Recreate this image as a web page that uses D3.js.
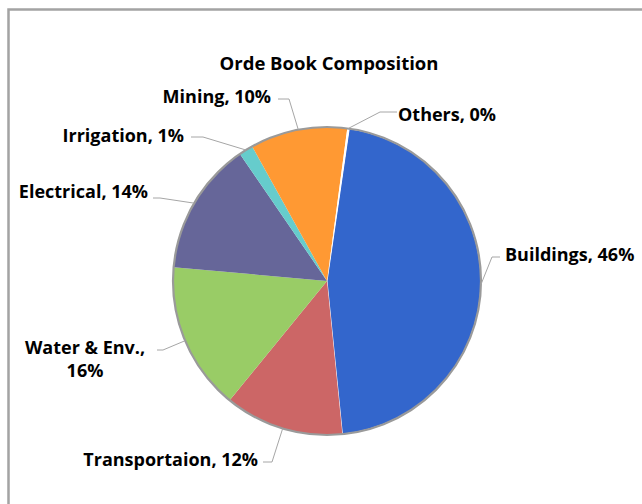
<!DOCTYPE html>
<html>
<head>
<meta charset="utf-8">
<script src="https://cdn.jsdelivr.net/npm/d3@7"></script>
<style>
  body { margin: 0; background: #fff; }
  svg text { font-family: "Open Sans", "Noto Sans", sans-serif; font-weight: bold; fill: #000; }
</style>
</head>
<body>
<div class="chart"></div>
<script>
// order book share, clockwise starting from Buildings
var categories = ["Buildings", "Transportaion", "Water & Env.", "Electrical", "Irrigation", "Mining", "Others"];
var shares = [46.1, 12.48, 15.55, 14.0, 1.49, 10.18, 0.2];
var colors = ["#3366cc", "#cc6666", "#99cc66", "#666699", "#66cccc", "#ff9933", "#ffffff"];

var svgW = 642, svgH = 504;
var cx = 327, cy = 281, r = 154;
var firstAngle = 8.3 * Math.PI / 180;

// where each label sits (elbow of the leader line, text anchor point)
var labelPos = {
    "Buildings":     { ex: 492, ey: 257, lx: 500, tx: 505, ty: 255, anchor: "start" },
    "Transportaion": { ex: 272, ey: 462, lx: 263, tx: 258, ty: 460, anchor: "end" },
    "Water & Env.":  { ex: 163, ey: 350, lx: 157, tx: 85, ty: 348, anchor: "middle" },
    "Electrical":    { ex: 160, ey: 198, lx: 153, tx: 148, ty: 192, anchor: "end" },
    "Irrigation":    { ex: 203, ey: 137, lx: 191, tx: 184, ty: 136, anchor: "end" },
    "Mining":        { ex: 289, ey: 99, lx: 278, tx: 271, ty: 97, anchor: "end" },
    "Others":        { ex: 380, ey: 112, lx: 397, tx: 398, ty: 115, anchor: "start" }
};

var data = categories.map(function(c, i) {
    return { name: c, value: shares[i], color: colors[i] };
});

var svg = d3.select(".chart").append("svg")
    .attr("width", svgW)
    .attr("height", svgH);

svg.append("rect")
    .attr("x", 8.5).attr("y", 9.5)
    .attr("width", 700).attr("height", 600)
    .attr("fill", "#fff")
    .attr("stroke", "#a3a3a3")
    .attr("stroke-width", 2.5);

svg.append("text")
    .attr("x", 329).attr("y", 64)
    .attr("dy", "0.35em")
    .attr("text-anchor", "middle")
    .style("font-size", "18.5px")
    .text("Orde Book Composition");

var pie = d3.pie()
    .sort(null)
    .value(function(d) { return d.value; })
    .startAngle(firstAngle)
    .endAngle(firstAngle + 2 * Math.PI);

var arc = d3.arc().innerRadius(0).outerRadius(r);

var Chrt = svg.append("g").attr("transform", "translate(" + cx + "," + cy + ")");

var arcs = pie(data);

Chrt.selectAll("path.slice")
    .data(arcs)
    .enter()
    .append("path")
    .attr("class", "slice")
    .attr("d", arc)
    .attr("fill", function(d) { return d.data.color; })
    .attr("stroke", function(d) { return d.data.name === "Buildings" ? "#fff" : "none"; })
    .attr("stroke-width", 1);

Chrt.append("circle")
    .attr("r", r)
    .attr("fill", "none")
    .attr("stroke", "#9a9a9a")
    .attr("stroke-width", 2.2);

// leader lines and labels
arcs.forEach(function(d) {
    var p = labelPos[d.data.name];
    var mid = (d.startAngle + d.endAngle) / 2;
    var sx = cx + r * Math.sin(mid);
    var sy = cy - r * Math.cos(mid);

    svg.append("polyline")
        .attr("points", [[sx, sy], [p.ex, p.ey], [p.lx, p.ey]].map(function(q) { return q.join(","); }).join(" "))
        .attr("fill", "none")
        .attr("stroke", "#a6a6a6")
        .attr("stroke-width", 1);

    var pct = Math.round(d.data.value) + "%";
    var t = svg.append("text")
        .attr("x", p.tx).attr("y", p.ty)
        .attr("text-anchor", p.anchor)
        .style("font-size", "18px");

    if (d.data.name === "Water & Env.") {
        t.append("tspan").attr("x", p.tx).attr("dy", "0.35em").text(d.data.name + ",");
        t.append("tspan").attr("x", p.tx).attr("dy", "1.27em").text(pct);
    } else {
        t.attr("dy", "0.35em").text(d.data.name + ", " + pct);
    }
});
</script>
</body>
</html>
